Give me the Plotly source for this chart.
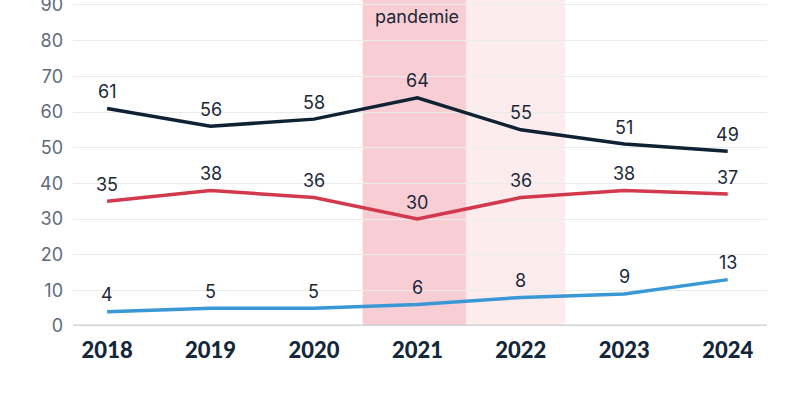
import plotly.graph_objects as go

years = [2018, 2019, 2020, 2021, 2022, 2023, 2024]
series_dark = [61, 56, 58, 64, 55, 51, 49]
series_red = [35, 38, 36, 30, 36, 38, 37]
series_blue = [4, 5, 5, 6, 8, 9, 13]
y_ticks = [0, 10, 20, 30, 40, 50, 60, 70, 80, 90]
band_label = "pandemie"

colors = {"dark": "#0f2233", "red": "#d3394c", "blue": "#3a98d6"}
label_color = "#1b2838"
FONT = "Inter, Lato, 'Noto Sans', sans-serif"

fig = go.Figure()

for vals, key in [(series_blue, "blue"), (series_red, "red"), (series_dark, "dark")]:
    fig.add_trace(go.Scatter(
        x=years, y=vals, mode="lines",
        line=dict(color=colors[key], width=3.5),
        hoverinfo="skip", showlegend=False,
    ))
    for xv, yv in zip(years, vals):
        fig.add_annotation(
            x=xv, y=yv, text=str(yv), showarrow=False, yshift=17,
            font=dict(family=FONT, size=18, color=label_color),
        )

# pandemic shading
fig.add_shape(type="rect", xref="x", yref="paper", x0=2020.47, x1=2021.47, y0=0, y1=1,
              fillcolor="#f8cdd4", line_width=0, layer="below")
fig.add_shape(type="rect", xref="x", yref="paper", x0=2021.47, x1=2022.43, y0=0, y1=1,
              fillcolor="#fdecee", line_width=0, layer="below")
# baseline
fig.add_shape(type="line", xref="paper", yref="y", x0=0, x1=1, y0=0, y1=0,
              line=dict(color="#d2d2d4", width=3), layer="below")

fig.add_annotation(
    x=2021, y=1, xref="x", yref="paper", yshift=-16, text=band_label, showarrow=False,
    font=dict(family=FONT, size=18, color=label_color), yanchor="middle",
)

fig.update_layout(
    width=790, height=395,
    margin=dict(l=73, r=23, t=0, b=69, autoexpand=False),
    paper_bgcolor="white", plot_bgcolor="white",
    xaxis=dict(
        range=[2017.67, 2024.38], tickvals=years, ticktext=[str(y) for y in years],
        showgrid=False, zeroline=False, showline=False, ticks="", automargin=False,
        tickfont=dict(family="Lato, Inter, sans-serif", size=22, color="#13263a", weight=900),
        ticklabelstandoff=9,
    ),
    yaxis=dict(
        range=[0, 91.4], tickvals=y_ticks, showgrid=True, gridcolor="#ebebeb", gridwidth=1,
        zeroline=False, showline=False, ticks="", automargin=False,
        tickfont=dict(family=FONT, size=18, color="#5d6b7b"),
        ticklabelstandoff=9, ticklabeloverflow="allow",
    ),
)

fig.write_html("out.html", config={"displayModeBar": False},
               post_script="document.body.style.margin='0';")
